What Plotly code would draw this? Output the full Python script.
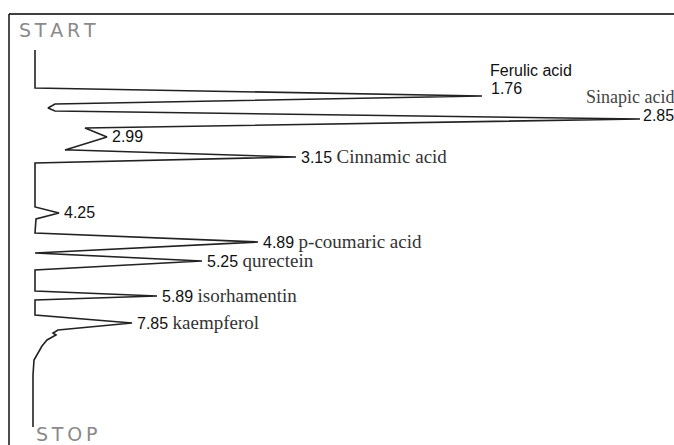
import plotly.graph_objects as go

# ---- data (chromatogram trace, drawn sideways) ----
# detector response (horizontal) and elution position (vertical, top = START)
trace_x = [35, 35, 482, 55, 48, 55, 640, 85, 107, 65, 72, 296, 35, 35, 59, 36, 35,
           258, 35, 202, 35, 35, 157, 35, 35, 132, 58, 53, 56, 47, 42, 34, 33, 33]
trace_y = [50, 88, 96, 104, 108, 111, 119, 128, 137, 150, 150, 157, 163, 207, 213, 219, 233,
           242, 253, 261, 270, 291, 296, 300, 315, 323, 330, 333, 335, 340, 346, 360, 375, 427]

# peaks: retention time label, compound name, tip position
peak_rt = ["1.76", "2.85", "2.99", "3.15", "4.25", "4.89", "5.25", "5.89", "7.85"]
peak_name = ["Ferulic acid", "Sinapic acid", "", "Cinnamic acid", "", "p-coumaric acid",
             "qurectein", "isorhamentin", "kaempferol"]
peak_x = [482, 640, 107, 296, 59, 258, 202, 157, 132]
peak_y = [96, 119, 137, 157, 213, 242, 261, 296, 323]

SANS = "Liberation Sans"
SERIF = "Liberation Serif"
INK = "#222222"

fig = go.Figure()
fig.add_trace(go.Scatter(x=trace_x, y=trace_y, mode="lines",
                         line=dict(color=INK, width=1.6), hoverinfo="skip",
                         showlegend=False))

ann = []
for rt, name, px, py in zip(peak_rt, peak_name, peak_x, peak_y):
    if name == "Ferulic acid":
        ann.append(dict(x=px, y=py, text=rt, xanchor="left", yanchor="middle",
                        xshift=7, yshift=8, font=dict(family=SANS, size=16, color="#111")))
        ann.append(dict(x=px, y=py, text=name, xanchor="left", yanchor="middle",
                        xshift=6, yshift=26, font=dict(family=SANS, size=16, color="#111")))
    elif name == "Sinapic acid":
        ann.append(dict(x=px, y=py, text=rt, xanchor="left", yanchor="middle",
                        xshift=1, yshift=4, font=dict(family=SANS, size=16, color="#111")))
        ann.append(dict(x=px, y=py, text=name, xanchor="left", yanchor="middle",
                        xshift=-56, yshift=22, font=dict(family=SERIF, size=18, color="#444")))
    else:
        txt = rt
        if name:
            txt = rt + " <span style='font-family:" + SERIF + ";font-size:19px;fill:#333'>" + name + "</span>"
        ann.append(dict(x=px, y=py, text=txt, xanchor="left", yanchor="middle",
                        xshift=3, yshift=1, font=dict(family=SANS, size=16, color="#111")))

T = "\u2009"
ann.append(dict(x=17, y=30, text=T.join("START"), xanchor="left", yanchor="middle", showarrow=False,
                font=dict(family="DejaVu Sans", size=19, color="#8a8a8a")))
ann.append(dict(x=34, y=434, text=T.join("STOP"), xanchor="left", yanchor="middle", showarrow=False,
                font=dict(family="DejaVu Sans", size=19, color="#8a8a8a")))
for a in ann:
    a.setdefault("showarrow", False)
    a["xref"] = "x"
    a["yref"] = "y"

fig.update_layout(
    width=674, height=445, autosize=False,
    margin=dict(l=0, r=0, t=0, b=0),
    paper_bgcolor="white", plot_bgcolor="white",
    xaxis=dict(range=[0, 674], visible=False, fixedrange=True),
    yaxis=dict(range=[445, 0], visible=False, fixedrange=True),
    annotations=ann,
    shapes=[
        dict(type="line", xref="x", yref="y", x0=9, x1=674, y0=14, y1=14,
             line=dict(color="black", width=1.4)),
        dict(type="line", xref="x", yref="y", x0=9, x1=9, y0=14, y1=445,
             line=dict(color="black", width=1.4)),
    ],
)

fig.write_html("out.html", config={"displayModeBar": False},
               post_script="document.body.style.margin='0';document.body.style.overflow='hidden';")
